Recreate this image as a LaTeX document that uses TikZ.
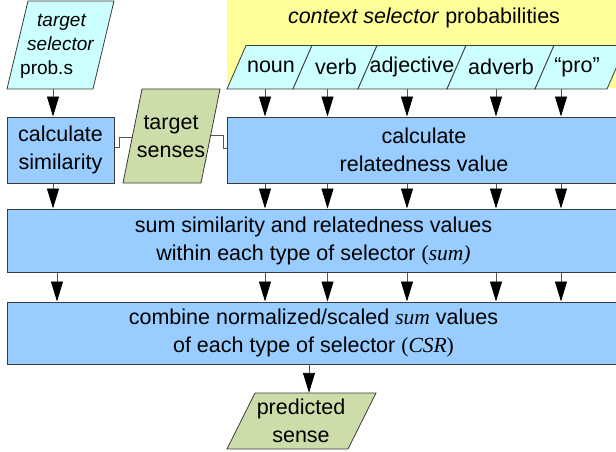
\documentclass[tikz,border=0pt]{standalone}
\usepackage{fontspec}
\setmainfont{Liberation Sans}
\newfontfamily\serifit{Liberation Serif}
\usetikzlibrary{arrows.meta}
\definecolor{boxblue}{HTML}{99CCFF}
\definecolor{selcyan}{HTML}{CCFFFF}
\definecolor{sensegreen}{HTML}{CCDDAA}
\definecolor{bandyellow}{HTML}{FFFF99}
\definecolor{edge}{HTML}{3A3A3A}
\definecolor{wire}{HTML}{555555}

\begin{document}
\begin{tikzpicture}[x=1pt,y=-1pt,
  every node/.style={font=\fontsize{21.5}{28}\selectfont, inner sep=0pt, text=black},
  procbox/.style={draw=edge, line width=1pt, fill=boxblue, align=center},
  datashape/.style={draw=edge, line width=0.8pt},
  txt/.style={align=center},
  flow/.style={draw=wire, line width=0.9pt, -{Triangle[length=20pt,width=12pt,black]}},
  link/.style={draw=wire, line width=0.9pt},
]
\useasboundingbox (0,0) rectangle (616,452);
\clip (0,0) rectangle (616,452);

% arrow columns
\coordinate (colA)  at (53,0);
\coordinate (colA2) at (57,0);
\coordinate (colB)  at (265,0);
\coordinate (colC)  at (327.5,0);
\coordinate (colD)  at (407,0);
\coordinate (colE)  at (496,0);
\coordinate (colF)  at (561,0);
\coordinate (colG)  at (309,0);

% context selector band
\fill[bandyellow] (227,0) rectangle (620,88);
\node[txt] (ctx) at (424,18) {\textit{context selector} probabilities};

\foreach \a/\b in {227/293, 293/358, 358/447, 447/535, 535/607}
  \filldraw[datashape, fill=selcyan] (\a,89) -- (\a+19,45.5) -- (\b+19,45.5) -- (\b,89) -- cycle;
\node[txt, minimum height=43.5pt] (noun) at (271,67.25) {noun};
\node[txt, minimum height=43.5pt] (verb) at (336,67.25) {verb};
\node[txt, minimum height=43.5pt] (adj)  at (412,67.25) {adjective};
\node[txt, minimum height=43.5pt] (adv)  at (501,67.25) {adverb};
\node[txt, minimum height=43.5pt] (pro)  at (577,67.25) {“pro”};

% target selector probabilities
\filldraw[datashape, fill=selcyan] (7,89) -- (28,1) -- (114,1) -- (93,89) -- cycle;
\node[font=\fontsize{19}{24}\selectfont, align=left, anchor=west] (tsp) at (20,46)
  {\hspace*{17pt}\textit{target}\\\hspace*{7pt}\textit{selector}\\prob.s};
\coordinate (tspb) at (53,89);

% first processing row
\node[procbox, minimum width=107pt, minimum height=66pt] (calcsim) at (60.5,150) {calculate\\similarity};
\node[procbox, minimum width=394pt, minimum height=66pt] (calcrel) at (424,150) {calculate\\relatedness value};

\filldraw[datashape, fill=sensegreen] (123,183) -- (142,89) -- (220,89) -- (201,183) -- cycle;
\node[txt] (tsens) at (171,136.5) {target\\senses};
\coordinate (tsL) at (132.3,137);
\coordinate (tsR) at (210.7,135);
\draw[link] ([yshift=3pt]calcsim.east) -- ++(5,0) |- (tsL);
\draw[link] (tsR) -- ++(12.3,0) |- ([yshift=2pt]calcrel.west);

% summing and combining
\node[procbox, minimum width=613pt, minimum height=63pt] (sumbox) at (313.5,240.5)
  {sum similarity and relatedness values\\within each type of selector {\serifit(\textit{sum)}}};
\node[procbox, minimum width=613pt, minimum height=62pt] (combine) at (313.5,333)
  {combine normalized/scaled {\serifit\textit{sum}} values\\of each type of selector {\serifit(\textit{CSR})}};

% predicted sense
\filldraw[datashape, fill=sensegreen] (227,449) -- (255,393) -- (376,393) -- (348,449) -- cycle;
\node[txt, minimum height=56pt] (pred) at (301,421) {predicted\\sense};

% flow arrows
\draw[flow] (tspb) -- (calcsim.north -| tspb);
\foreach \n/\c in {noun/colB, verb/colC, adj/colD, adv/colE, pro/colF}
  \draw[flow] (\n.south -| \c) -- (calcrel.north -| \c);
\draw[flow] (calcsim.south -| colA) -- (sumbox.north -| colA);
\foreach \c in {colB, colC, colD, colE, colF}
  \draw[flow] (calcrel.south -| \c) -- (sumbox.north -| \c);
\foreach \c in {colA2, colB, colC, colD, colE, colF}
  \draw[flow] (sumbox.south -| \c) -- (combine.north -| \c);
\draw[flow] (combine.south -| colG) -- (pred.north -| colG);
\end{tikzpicture}
\end{document}
